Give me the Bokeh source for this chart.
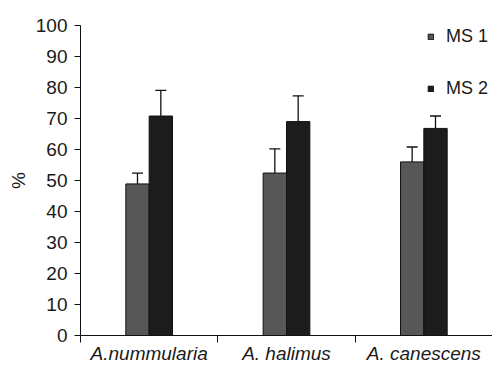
from bokeh.plotting import figure
from bokeh.models import (ColumnDataSource, Range1d, FixedTicker, Whisker, TeeHead,
                          Legend, LegendItem)
from bokeh.transform import dodge
from bokeh.embed import file_html
from bokeh.resources import INLINE

categories = ["A.nummularia", "A. halimus", "A. canescens"]
ms1 = [48.9, 52.4, 56.0]
ms1_err = [3.5, 7.8, 4.8]
ms2 = [70.8, 69.0, 66.8]
ms2_err = [8.3, 8.3, 4.0]
series_names = ["MS 1", "MS 2"]
y_ticks = list(range(0, 101, 10))

FONT = "Liberation Sans"
TXT = "#1a1a1a"
BAR_W = 0.17
OFF = 0.085

centers = [i + 0.5 for i in range(len(categories))]
src = ColumnDataSource(dict(
    x=centers,
    x1=[c - OFF for c in centers],
    x2=[c + OFF for c in centers],
    ms1=ms1, ms2=ms2,
    up1=[v + e for v, e in zip(ms1, ms1_err)],
    up2=[v + e for v, e in zip(ms2, ms2_err)],
))

p = figure(width=492, height=366, output_backend="svg", toolbar_location=None,
           x_range=Range1d(0, len(categories)), y_range=Range1d(0, 100),
           min_border_left=80, min_border_right=0, min_border_top=25,
           min_border_bottom=30)
p.outline_line_color = None
p.grid.visible = False
p.background_fill_color = "white"

r1 = p.vbar(x=dodge("x", -OFF), top="ms1", width=BAR_W, source=src,
            fill_color="#575757", line_color="#111111", line_width=1)
r2 = p.vbar(x=dodge("x", OFF), top="ms2", width=BAR_W, source=src,
            fill_color="#1c1c1c", line_color="#111111", line_width=1)

for lo, up, xs in (("ms1", "up1", "x1"), ("ms2", "up2", "x2")):
    w = Whisker(source=src, base=xs, lower=lo, upper=up, dimension="height",
                line_color="#111111", line_width=1.3,
                upper_head=TeeHead(size=11, line_color="#111111", line_width=1.3),
                lower_head=None)
    p.add_layout(w)

# x axis
xa = p.xaxis[0]
xa.ticker = FixedTicker(ticks=centers, minor_ticks=list(range(len(categories) + 1)))
xa.major_label_overrides = {c: n for c, n in zip(centers, categories)}
xa.major_tick_line_color = None
xa.major_tick_out = 7
xa.major_tick_in = 0
xa.minor_tick_out = 7
xa.minor_tick_in = 0
xa.minor_tick_line_color = "#111111"
xa.axis_line_color = "#111111"
xa.major_label_standoff = 0
xa.major_label_text_font = FONT
xa.major_label_text_font_style = "italic"
xa.major_label_text_font_size = "19px"
xa.major_label_text_color = TXT

# y axis
ya = p.yaxis[0]
ya.ticker = FixedTicker(ticks=y_ticks)
ya.minor_tick_line_color = None
ya.major_tick_out = 6
ya.major_tick_in = 0
ya.major_tick_line_color = "#111111"
ya.axis_line_color = "#111111"
ya.major_label_standoff = 7
ya.major_label_text_font = FONT
ya.major_label_text_font_size = "19px"
ya.major_label_text_color = TXT
ya.axis_label = "%"
ya.axis_label_text_font = FONT
ya.axis_label_text_font_style = "normal"
ya.axis_label_text_font_size = "19px"
ya.axis_label_text_color = TXT
ya.axis_label_standoff = 4

legend = Legend(items=[LegendItem(label=series_names[0], renderers=[r1]),
                       LegendItem(label=series_names[1], renderers=[r2])],
                location=(347, 236), orientation="vertical",
                glyph_width=7, glyph_height=7, label_standoff=12,
                label_height=16,
                spacing=31, padding=0, margin=0,
                border_line_color=None, background_fill_alpha=0,
                label_text_font=FONT, label_text_font_size="18px",
                label_text_color=TXT)
p.add_layout(legend)

open("out.html", "w").write(file_html(p, INLINE))
